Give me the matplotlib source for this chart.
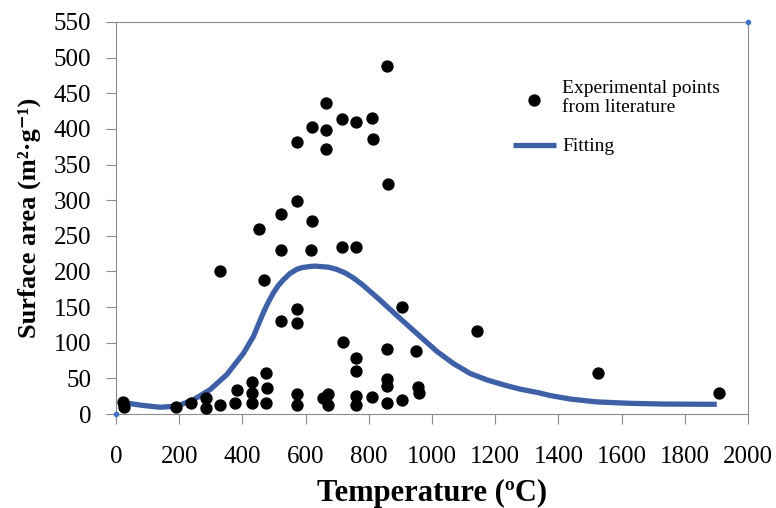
import matplotlib
matplotlib.use('Agg')
from matplotlib import pyplot as plt

# experimental points
temp_exp = [858, 665, 620, 665, 716, 758, 811, 812, 572, 665,
            862, 572, 521, 620, 453, 521, 616, 716, 758, 330,
            469, 572, 521, 572, 906, 1141, 718, 859, 948, 758,
            758, 859, 859, 954, 960, 906, 811, 859, 758, 758,
            670, 656, 670, 572, 572, 474, 431, 477, 431, 382,
            377, 431, 474, 330, 284, 284, 237, 190, 21, 25,
            1524, 1908]
area_exp = [488, 437, 403, 398, 414, 410, 415, 386, 382, 372,
            323, 299, 281, 271, 259, 230, 230, 234, 235, 201,
            188, 147, 131, 128, 150, 116, 101, 91, 88, 79,
            60, 49, 40, 38, 30, 20, 24, 16, 25, 12,
            28, 23, 13, 28, 13, 57, 45, 36, 30, 33,
            15, 15, 15, 13, 23, 8, 16, 10, 17, 10,
            57, 29]

# fitting curve
temp_fit = [20, 39, 86, 139, 192, 245, 297, 350, 403, 435, 450, 466, 482,
            498, 513, 529, 550, 572, 590, 614, 630, 646, 672, 698, 725, 751,
            778, 804, 830, 857, 909, 962, 1015, 1067, 1120, 1173, 1226, 1278,
            1336, 1373, 1437, 1521, 1627, 1732, 1901]
area_fit = [17, 15, 12, 9.5, 11, 20, 34, 55, 85, 109, 125, 142, 157,
            170, 180, 188, 197, 203, 205.5, 207, 207.5, 207, 206, 203, 198, 191,
            182, 172, 162, 151, 130, 109, 88, 71, 57, 48, 41, 35,
            30, 26, 21, 17, 15, 14, 13.6]

plt.rcParams['font.family'] = ['Liberation Serif', 'DejaVu Serif']

fig = plt.figure(figsize=(7.76, 5.08), dpi=100)
ax = fig.add_axes([0.1495, 0.185, 0.8145, 0.7717])

ax.scatter(temp_exp, area_exp, s=62, color='black', zorder=3,
           label='Experimental points\nfrom literature')
ax.plot(temp_fit, area_fit, color='#3d60a7', lw=3.8, zorder=2,
        solid_capstyle='butt', solid_joinstyle='round', label='Fitting')
# corner markers of the hidden series
ax.plot([0, 2000], [0, 550], ls='none', marker='o', ms=3, color='#4472c4',
        clip_on=False, zorder=4)

ax.set_xlim(0, 2000)
ax.set_ylim(0, 550)
ax.set_xticks(range(0, 2001, 200))
ax.set_yticks(range(0, 551, 50))
for s in ax.spines.values():
    s.set_color('#8c8c8c')
ax.tick_params(axis='both', direction='out', length=7, color='#8c8c8c',
               labelsize=18)
ax.tick_params(axis='x', pad=16)
ax.tick_params(axis='y', pad=11)

ax.set_xlabel('Temperature (ºC)', fontsize=22, fontweight='bold', labelpad=8)
ax.set_ylabel('Surface area (m²·g⁻¹)', fontsize=19, fontweight='bold',
              labelpad=9)

ax.legend(loc='upper left', bbox_to_anchor=(0.6, 0.897), frameon=False,
          fontsize=14, handlelength=2.2, handletextpad=0.35, labelspacing=1.1)

fig.savefig('out.png', dpi=100)
